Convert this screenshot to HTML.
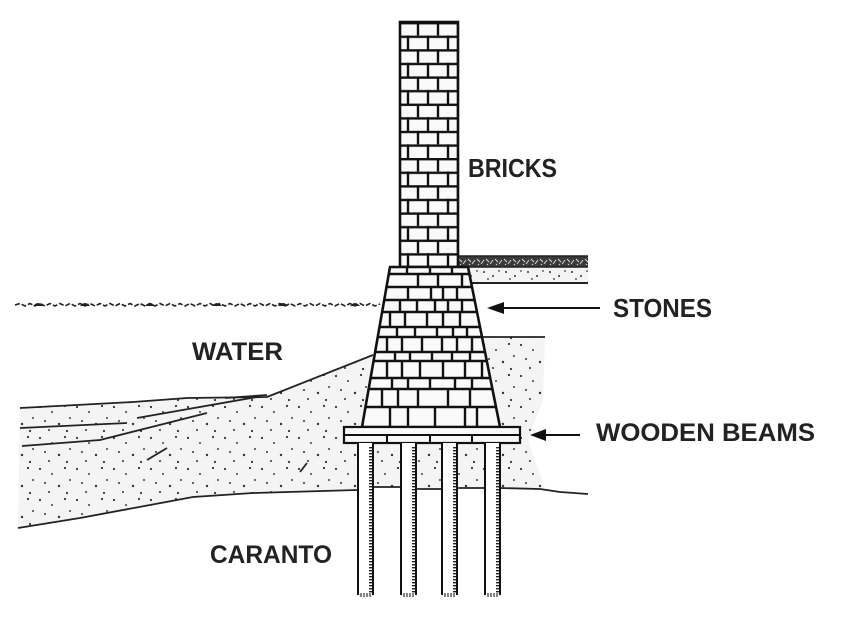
<!DOCTYPE html>
<html><head><meta charset="utf-8"><style>
html,body{margin:0;padding:0;background:#fff;}
svg{display:block}
</style></head><body>
<svg width="850" height="627" viewBox="0 0 850 627" xmlns="http://www.w3.org/2000/svg">
<defs>
<pattern id="dots" patternUnits="userSpaceOnUse" width="37" height="31">
<rect width="37" height="31" fill="#f4f4f4"/>
<circle cx="3" cy="4" r="1.1" fill="#333"/>
<circle cx="15" cy="9" r="1" fill="#444"/>
<circle cx="28" cy="3" r="1.1" fill="#333"/>
<circle cx="8" cy="18" r="1" fill="#333"/>
<circle cx="22" cy="21" r="1.2" fill="#333"/>
<circle cx="33" cy="15" r="1" fill="#444"/>
<circle cx="12" cy="27" r="1" fill="#333"/>
<circle cx="30" cy="28" r="1.1" fill="#333"/>
</pattern>
<pattern id="dots2" patternUnits="userSpaceOnUse" x="458" y="267" width="22" height="16">
<rect width="22" height="16" fill="#f4f4f4"/>
<circle cx="4" cy="5" r="1" fill="#333"/>
<circle cx="13" cy="9" r="1" fill="#333"/>
<circle cx="19" cy="4" r="0.9" fill="#444"/>
<circle cx="8" cy="12" r="0.9" fill="#333"/>
</pattern>
<pattern id="hatch" patternUnits="userSpaceOnUse" x="458" y="256" width="9" height="11">
<rect width="9" height="11" fill="#3a3a3a"/>
<path d="M1,3 L4,6 M5,8 L8,4 M2,8 L3,9" stroke="#ddd" stroke-width="1"/>
</pattern>
<pattern id="bricks" patternUnits="userSpaceOnUse" x="400" y="22" width="40" height="27.2">
<rect width="40" height="27.2" fill="#fafafa"/>
<rect y="0" width="40" height="2.4" fill="#111"/>
<rect y="13.6" width="40" height="2.4" fill="#111"/>
<rect x="16.8" y="0" width="2.4" height="13.6" fill="#111"/>
<rect x="36.8" y="0" width="2.4" height="13.6" fill="#111"/>
<rect x="6.8" y="13.6" width="2.4" height="13.6" fill="#111"/>
<rect x="26.8" y="13.6" width="2.4" height="13.6" fill="#111"/>
</pattern>
<pattern id="ticks" patternUnits="userSpaceOnUse" width="4" height="3">
<rect width="4" height="3" fill="#fff"/>
<rect x="0" y="0" width="4" height="1.4" fill="#222"/>
</pattern>
<clipPath id="trap"><polygon points="390,267 468,267 500,427 362,427"/></clipPath>
</defs>

<!-- left sand -->
<path d="M20,408 L133,402 L187,398 L267,397 L373,355 L362,427 L357,443 L357,490 L253,493 L193,497 L80,518 L18,528 Z" fill="url(#dots)"/>
<rect x="373" y="443" width="27" height="45" fill="url(#dots)"/>
<rect x="416" y="443" width="25" height="46" fill="url(#dots)"/>
<rect x="457" y="443" width="27" height="45" fill="url(#dots)"/>
<path d="M482,337 L545,337 L543,400 L528,440 L545,488 L500,488 L500,427 Z" fill="url(#dots)"/>

<g fill="none" stroke="#222" stroke-width="1.8" stroke-linejoin="round">
<polyline points="20,408 133,402 187,398 267,397 373,355"/>
<polyline points="225,398 267,395"/>
<polyline points="20,428 127,423"/>
<polyline points="137,418 257,397"/>
<polyline points="22,446 100,440 207,413"/>
<polyline points="147,460 167,448"/>
<polyline points="300,472 307,463"/>
<polyline points="18,528 80,518 193,497 253,493 357,490"/>
<polyline points="482,337 545,337"/>
<polyline points="373,487 400,487"/>
<polyline points="416,489 441,489"/>
<polyline points="457,488 484,488"/>
<polyline points="500,488 540,489 560,492 588,494"/>
</g>

<!-- water line -->
<polyline fill="none" stroke="#222" stroke-width="1.6" stroke-dasharray="5 2"
points="15,305 20,303.5 25,306 30,303.5 35,306 40,303.5 45,306 50,303.5 55,306 60,303.5 65,306 70,303.5 75,306 80,303.5 85,306 90,303.5 95,306 100,303.5 105,306 110,303.5 115,306 120,303.5 125,306 130,303.5 135,306 140,303.5 145,306 150,303.5 155,306 160,303.5 165,306 170,303.5 175,306 180,303.5 185,306 190,303.5 195,306 200,303.5 205,306 210,303.5 215,306 220,303.5 225,306 230,303.5 235,306 240,303.5 245,306 250,303.5 255,306 260,303.5 265,306 270,303.5 275,306 280,303.5 285,306 290,303.5 295,306 300,303.5 305,306 310,303.5 315,306 320,303.5 325,306 330,303.5 335,306 340,303.5 345,306 350,303.5 355,306 360,303.5 365,306 370,303.5 375,306 380,304"/>
<g fill="#222">
<path d="M33,306 Q38,300 43,306 Z"/>
<path d="M80,306 Q85,300 90,306 Z"/>
<path d="M145,306 Q150,300 155,306 Z"/>
<path d="M212,306 Q217,300 222,306 Z"/>
<path d="M278,306 Q283,300 288,306 Z"/>
<path d="M350,306 Q355,300 360,306 Z"/>
</g>

<!-- top right ground layer -->
<rect x="458" y="256" width="130" height="11" fill="url(#hatch)"/>
<rect x="458" y="267" width="130" height="16" fill="url(#dots2)"/>
<line x1="458" y1="256" x2="588" y2="256" stroke="#222" stroke-width="1.5"/>
<line x1="458" y1="267" x2="588" y2="267" stroke="#222" stroke-width="1.5"/>
<line x1="458" y1="283" x2="588" y2="283" stroke="#222" stroke-width="2"/>

<!-- brick tower -->
<rect x="400" y="22" width="58" height="245" fill="url(#bricks)" stroke="#111" stroke-width="2.6"/>

<!-- stones trapezoid -->
<polygon points="390,267 468,267 500,427 362,427" fill="#fafafa"/>
<g clip-path="url(#trap)" stroke="#111" stroke-width="2.4" fill="none">
<path d="M350,274H510 M350,287H510 M350,300H510 M350,312H510 M350,327H510 M350,337H510 M350,352H510 M350,361H510 M350,378H510 M350,389H510 M350,407H510"/>
<path d="M407,267V274 M430,267V274 M452,267V274
M418,274V287 M438,274V287 M462,274V287
M408,287V300 M431,287V300 M443,287V300 M457,287V300
M400,300V312 M417,300V312 M435,300V312 M448,300V312 M462,300V312
M390,312V327 M405,312V327 M427,312V327 M443,312V327 M460,312V327
M397,327V337 M415,327V337 M437,327V337 M453,327V337 M467,327V337
M387,337V352 M402,337V352 M422,337V352 M442,337V352 M457,337V352 M472,337V352
M395,352V361 M410,352V361 M432,352V361 M452,352V361 M470,352V361
M387,361V378 M402,361V378 M420,361V378 M443,361V378 M465,361V378 M482,361V378
M392,378V389 M408,378V389 M430,378V389 M455,378V389 M472,378V389
M382,389V407 M398,389V407 M418,389V407 M448,389V407 M470,389V407
M390,407V427 M408,407V427 M435,407V427 M465,407V427 M477,407V427"/>
</g>
<polygon points="390,267 468,267 500,427 362,427" fill="none" stroke="#111" stroke-width="2.6"/>

<!-- wooden beams -->
<rect x="344" y="427" width="176" height="16" fill="#fafafa" stroke="#111" stroke-width="2.2"/>
<line x1="344" y1="435" x2="520" y2="435" stroke="#111" stroke-width="2"/>
<path d="M387,435V443 M430,435V443 M472,435V443" stroke="#111" stroke-width="2"/>

<!-- piles -->
<g>
<rect x="357" y="443" width="16" height="152" fill="#fff"/>
<rect x="400" y="443" width="16" height="152" fill="#fff"/>
<rect x="441" y="443" width="16" height="152" fill="#fff"/>
<rect x="484" y="443" width="16" height="152" fill="#fff"/>
<rect x="369" y="446" width="3" height="147" fill="url(#ticks)"/>
<rect x="412" y="446" width="3" height="147" fill="url(#ticks)"/>
<rect x="453" y="446" width="3" height="147" fill="url(#ticks)"/>
<rect x="496" y="446" width="3" height="147" fill="url(#ticks)"/>
<path d="M358,443V595 M373,443V595 M401,443V595 M416,443V595 M442,443V595 M457,443V595 M485,443V595 M500,443V595" stroke="#111" stroke-width="2"/>
<path d="M361,593V597 M364,593V597 M367,593V597 M370,593V597
M404,593V597 M407,593V597 M410,593V597 M413,593V597
M445,593V597 M448,593V597 M451,593V597 M454,593V597
M488,593V597 M491,593V597 M494,593V597 M497,593V597" stroke="#333" stroke-width="1.2"/>
</g>

<!-- arrows -->
<line x1="500" y1="308" x2="600" y2="308" stroke="#111" stroke-width="2"/>
<polygon points="487,308 504,302 504,314" fill="#111"/>
<line x1="543" y1="435" x2="580" y2="435" stroke="#111" stroke-width="2"/>
<polygon points="530,435 546,429 546,441" fill="#111"/>

<!-- labels -->
<g font-family="Liberation Sans, Arial, sans-serif" font-weight="bold" fill="#222">
<text x="468" y="177" font-size="26" textLength="89" lengthAdjust="spacingAndGlyphs">BRICKS</text>
<text x="613" y="317" font-size="26" textLength="99" lengthAdjust="spacingAndGlyphs">STONES</text>
<text x="192" y="360" font-size="25" textLength="91" lengthAdjust="spacingAndGlyphs">WATER</text>
<text x="596" y="441" font-size="25" textLength="219" lengthAdjust="spacingAndGlyphs">WOODEN BEAMS</text>
<text x="210" y="563" font-size="25" textLength="122" lengthAdjust="spacingAndGlyphs">CARANTO</text>
</g>
</svg>
</body></html>
